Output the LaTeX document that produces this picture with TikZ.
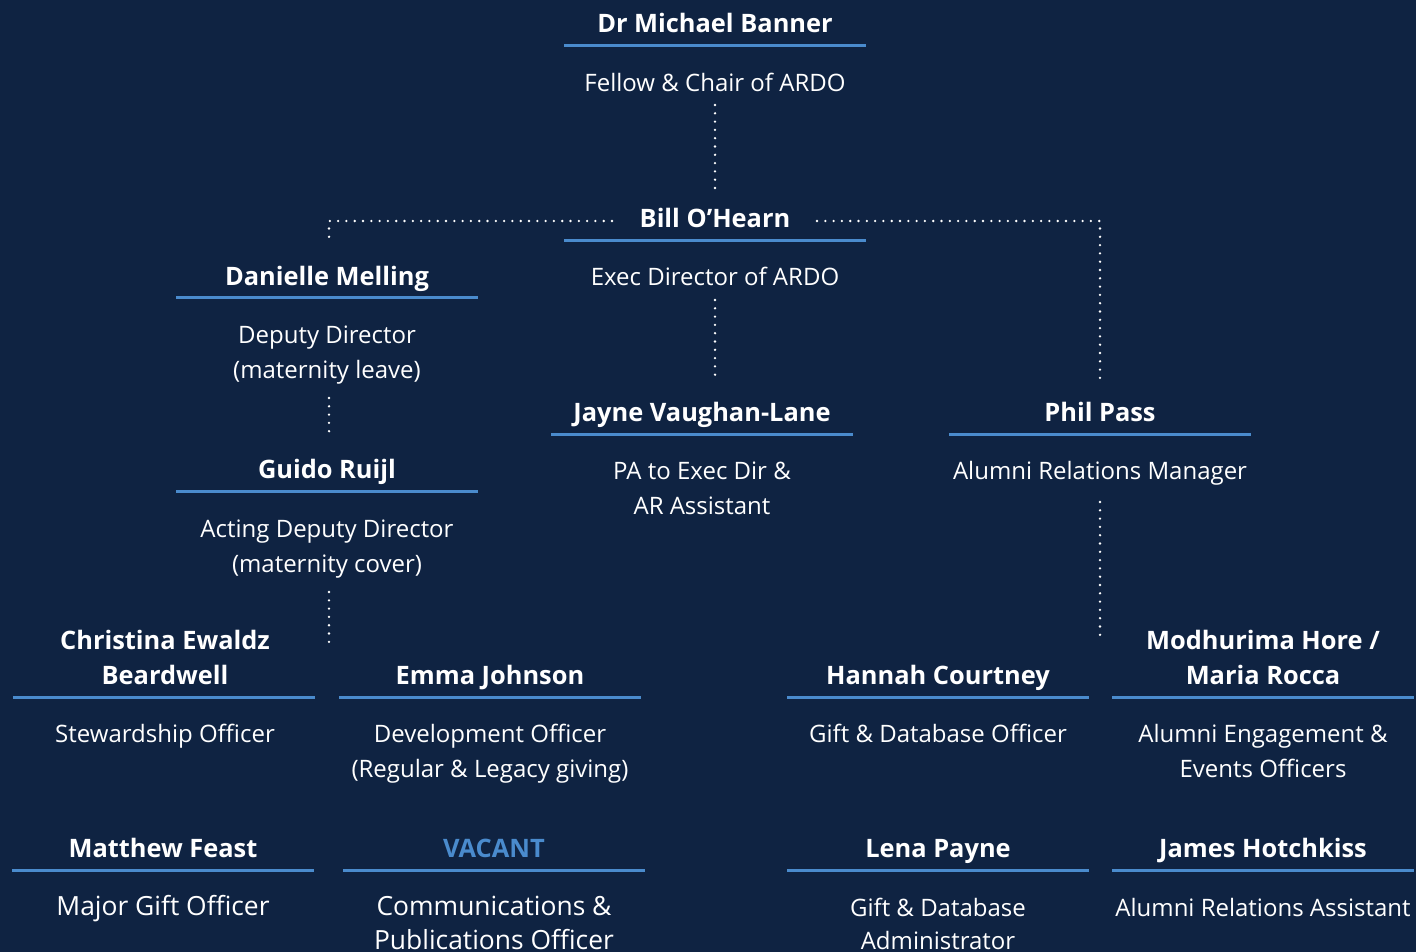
\documentclass[tikz,border=0pt]{standalone}
\usepackage{fontspec}
\IfFontExistsTF{Noto Sans Bold}{\setmainfont{Noto Sans}[BoldFont={Noto Sans Bold}]}{\setmainfont{Open Sans}}
\usetikzlibrary{calc}
\definecolor{bg}{RGB}{15,35,66}
\definecolor{ublue}{RGB}{74,139,205}
\newcommand\lns[1]{\begin{tabular}[t]{@{}c@{}}#1\end{tabular}}
\begin{document}
\begin{tikzpicture}[x=1pt,y=-1pt,
  nm/.style={font=\fontsize{25.4}{35}\selectfont\bfseries, text=white, inner sep=0pt, anchor=base},
  sb/.style={font=\fontsize{24}{35}\selectfont, text=white, inner sep=0pt, anchor=base},
  sbl/.style={sb, font=\fontsize{26.4}{34}\selectfont},
  rl/.style={draw=ublue, line width=3pt},
  dots/.style={draw=white, line width=2.6pt, line cap=round, dash pattern=on 0pt off 8.3pt}]
\fill[bg] (0,0) rectangle (1416,952);
\useasboundingbox (0,0) rectangle (1416,952);

% names and roles
\node[nm] (banner) at (715,33) {Dr Michael Banner};
\node[sb] (bannersub) at (715,92) {Fellow \& Chair of ARDO};
\node[nm] (bill) at (715,227) {Bill O’Hearn};
\node[sb] (billsub) at (715,285) {Exec Director of ARDO};
\node[nm] (danielle) at (327,285) {Danielle Melling};
\node[sb] (daniellesub) at (327,343) {\lns{Deputy Director\\(maternity leave)}};
\node[nm] (guido) at (327,478) {Guido Ruijl};
\node[sb] (guidosub) at (327,537) {\lns{Acting Deputy Director\\(maternity cover)}};
\node[nm] (jayne) at (702,421) {Jayne Vaughan-Lane};
\node[sb] (jaynesub) at (702,479) {\lns{PA to Exec Dir \&\\AR Assistant}};
\node[nm] (phil) at (1100,421) {Phil Pass};
\node[sb] (philsub) at (1100,479) {Alumni Relations Manager};
\node[nm] (christina) at (165,649) {\lns{Christina Ewaldz\\Beardwell}};
\node[sb] (christinasub) at (165,742) {Stewardship Officer};
\node[nm] (emma) at (490,684) {Emma Johnson};
\node[sb] (emmasub) at (490,742) {\lns{Development Officer\\(Regular \& Legacy giving)}};
\node[nm] (hannah) at (938,684) {Hannah Courtney};
\node[sb] (hannahsub) at (938,742) {Gift \& Database Officer};
\node[nm] (modhurima) at (1263,649) {\lns{Modhurima Hore /\\Maria Rocca}};
\node[sb] (modhurimasub) at (1263,742) {\lns{Alumni Engagement \&\\Events Officers}};
\node[nm] (matthew) at (163,857) {Matthew Feast};
\node[sbl] (matthewsub) at (163,915) {Major Gift Officer};
\node[nm, text=ublue] (vacant) at (494,857) {VACANT};
\node[sbl] (vacantsub) at (494,915) {\lns{Communications \&\\Publications Officer}};
\node[nm] (lena) at (938,857) {Lena Payne};
\node[sb, font=\fontsize{24}{33}\selectfont] (lenasub) at (938,916) {\lns{Gift \& Database\\Administrator}};
\node[nm] (james) at (1263,857) {James Hotchkiss};
\node[sb] (jamessub) at (1263,916) {Alumni Relations Assistant};

% underlines
\draw[rl] ($(banner.base)+(-151,13)$) -- ++(302,0);
\draw[rl] ($(bill.base)+(-151,13)$) -- ++(302,0);
\draw[rl] ($(danielle.base)+(-151,12)$) -- ++(302,0);
\draw[rl] ($(guido.base)+(-151,13)$) -- ++(302,0);
\draw[rl] ($(jayne.base)+(-151,13)$) -- ++(302,0);
\draw[rl] ($(phil.base)+(-151,13)$) -- ++(302,0);
\draw[rl] ($(christina.base)+(-152,48)$) -- ++(302,0);
\draw[rl] ($(emma.base)+(-151,13)$) -- ++(302,0);
\draw[rl] ($(hannah.base)+(-151,13)$) -- ++(302,0);
\draw[rl] ($(modhurima.base)+(-151,48)$) -- ++(302,0);
\draw[rl] ($(matthew.base)+(-151,13)$) -- ++(302,0);
\draw[rl] ($(vacant.base)+(-151,13)$) -- ++(302,0);
\draw[rl] ($(lena.base)+(-151,13)$) -- ++(302,0);
\draw[rl] ($(james.base)+(-151,13)$) -- ++(302,0);

% connectors
\coordinate (lsplit) at (329,642);
\coordinate (rsplit) at (1100,642);
\draw[dots] ($(bannersub.base)+(0,13)$) -- ($(bill.base)+(0,-39)$);
\draw[dots] ($(bill.base)+(-103,-6)$) -| ($(danielle.base)+(2,-47)$);
\draw[dots] ($(bill.base)+(102,-6)$) -| ($(phil.base)+(0,-41)$);
\draw[dots] ($(daniellesub.base)+(2,55)$) -- ($(guido.base)+(2,-42)$);
\draw[dots] ($(guidosub.base)+(2,55)$) -- (lsplit);
\draw[dots] ($(billsub.base)+(0,15)$) -- ($(jayne.base)+(13,-39)$);
\draw[dots] ($(philsub.base)+(0,23)$) -- (rsplit);
\end{tikzpicture}
\end{document}
